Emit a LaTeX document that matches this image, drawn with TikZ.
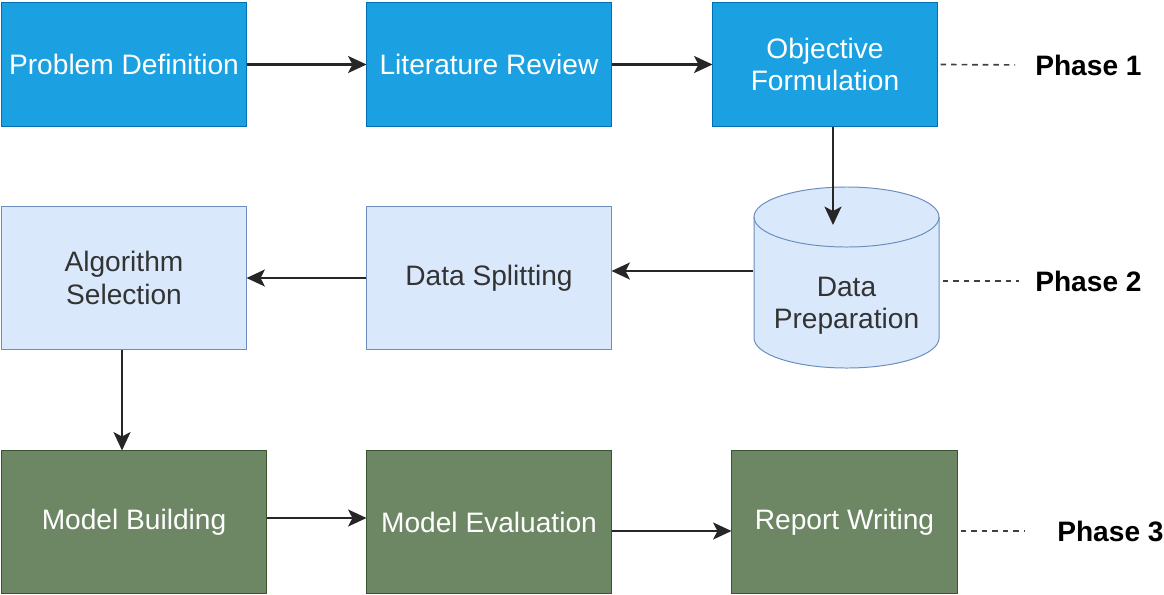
\documentclass[tikz,border=0pt]{standalone}
\usepackage{fontspec}
\setmainfont{Liberation Sans}
\usetikzlibrary{arrows.meta}
\definecolor{blueFill}{HTML}{1BA1E2}
\definecolor{blueLine}{HTML}{006EAF}
\definecolor{lightFill}{HTML}{DAE8FC}
\definecolor{lightLine}{HTML}{6C8EBF}
\definecolor{greenFill}{HTML}{6D8764}
\definecolor{greenLine}{HTML}{3A5431}
\definecolor{darkText}{HTML}{333333}
\tikzstyle{base} = [rectangle, minimum width=6.1cm, text centered, align=center, line width=0.7pt, font=\fontsize{20}{23}\selectfont]
\tikzstyle{phaseone} = [base, minimum height=3.075cm, draw=blueLine, fill=blueFill, text=white]
\tikzstyle{phasetwo} = [base, minimum height=3.55cm, draw=lightLine, fill=lightFill, text=darkText]
\tikzstyle{phasethree} = [base, minimum height=3.55cm, draw=greenLine, fill=greenFill, text=white]
\tikzstyle{arrow} = [line width=1.7pt, draw=black!85, -{Stealth[length=13pt, width=12pt, inset=3pt]}]
\tikzstyle{phaseline} = [line width=1.2pt, draw=black!75, dash pattern=on 4pt off 3.5pt, shorten <=0.075cm]
\tikzstyle{phaselabel} = [anchor=west, inner sep=0pt, font=\bfseries\fontsize{20}{23}\selectfont]

\begin{document}
\begin{tikzpicture}[x=0.025cm, y=-0.025cm]
    \useasboundingbox[fill=white] (0,0) rectangle (1164,594);

    % phase 1
    \node (probdef) [phaseone] at (124,64.5) {Problem Definition};
    \node (litreview) [phaseone] at (489,64.5) {Literature Review};
    \node (objform) [phaseone, minimum width=5.6cm] at (825,64.5) {Objective\\Formulation};

    % phase 2 (the cylinder is drawn by hand, its text node sits on top)
    \filldraw [fill=lightFill, draw=lightLine, line width=0.7pt] (754,217) -- (754,338)
        arc[start angle=180, end angle=360, x radius=2.3125cm, y radius=0.75cm] -- (939,217)
        arc[start angle=0, end angle=180, x radius=2.3125cm, y radius=0.75cm] -- cycle;
    \draw [draw=lightLine, line width=0.7pt] (754,217) arc[start angle=180, end angle=360, x radius=2.3125cm, y radius=0.75cm];
    \node (dataprep) [base, minimum width=4.625cm, text=darkText] at (846.5,306) {Data\\Preparation};
    \node (datasplit) [phasetwo] at (489,278) {Data Splitting};
    \node (algosel) [phasetwo] at (124,278) {Algorithm\\Selection};

    % phase 3
    \node (modelbuild) [phasethree, minimum width=6.6cm] at (134,522) {Model Building};
    \node (modeleval) [phasethree] at (489,522) {Model Evaluation};
    \node (report) [phasethree, minimum width=5.625cm] at (844.5,522) {Report Writing};

    % phase labels
    \node (ph1) [phaselabel] at (1035,65) {Phase 1};
    \node (ph2) [phaselabel] at (1035,281) {Phase 2};
    \node (ph3) [phaselabel] at (1057,531) {Phase 3};

    \draw [arrow] (probdef) -- (litreview);
    \draw [arrow] (litreview) -- (objform);
    \coordinate (dpin) at (833,225);
    \draw [arrow] (objform.south -| dpin) -- (dpin);
    \draw [arrow] (dataprep.west |- 0,271) -- (datasplit.east |- 0,271);
    \draw [arrow] (datasplit) -- (algosel);
    \draw [arrow] (algosel.south -| 122,0) -- (modelbuild.north -| 122,0);
    \draw [arrow] (modelbuild.east |- 0,518) -- (modeleval.west |- 0,518);
    \draw [arrow] (modeleval.east |- 0,531) -- (report.west |- 0,531);

    \draw [phaseline, shorten >=0.5cm] (objform.east) -- (ph1.west);
    \draw [phaseline, shorten >=0.4cm] (dataprep.east |- ph2) -- (ph2.west);
    \draw [phaseline, shorten >=0.8cm] (report.east |- ph3) -- (ph3.west);
\end{tikzpicture}
\end{document}
